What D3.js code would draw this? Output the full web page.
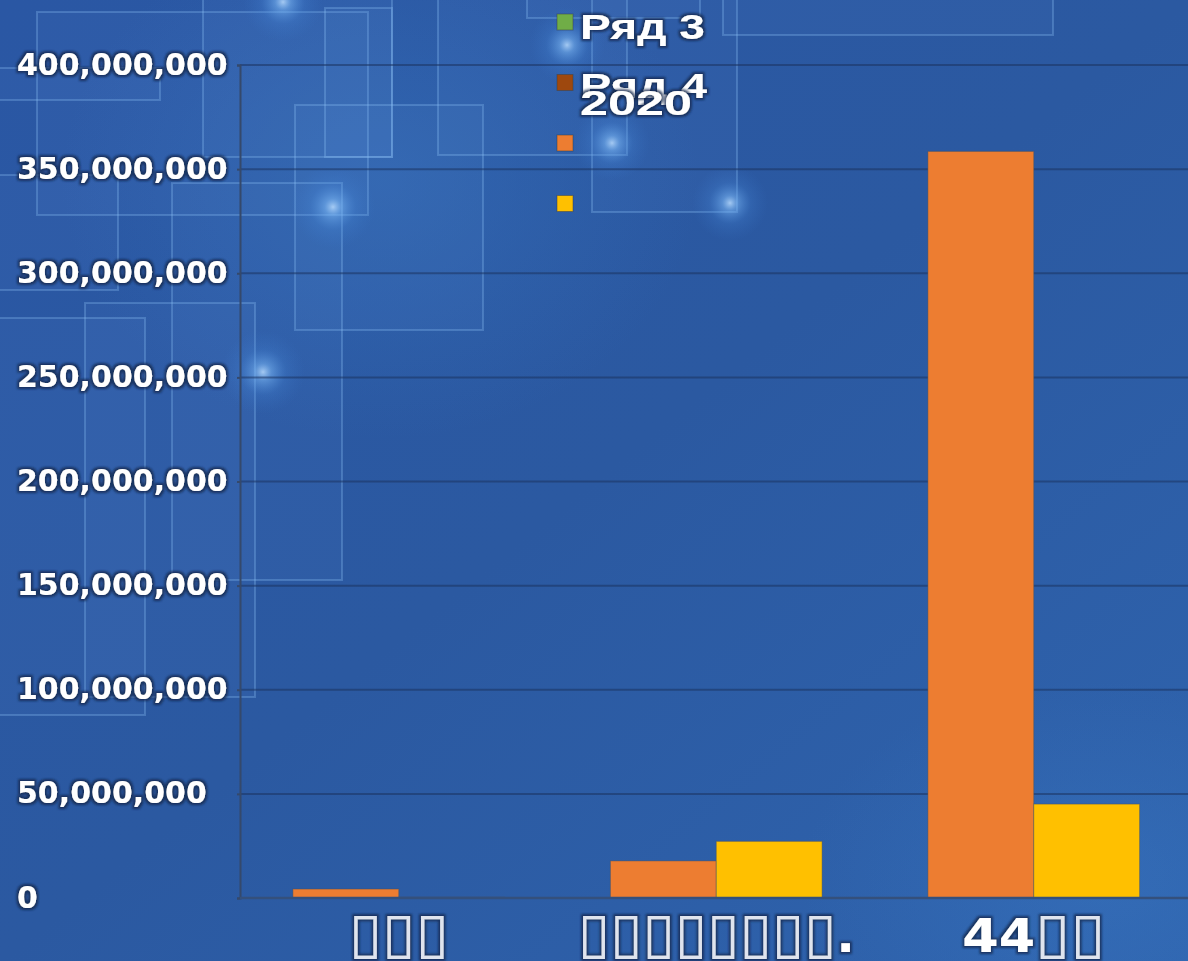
<!DOCTYPE html>
<html>
<head>
<meta charset="utf-8">
<script src="https://cdn.jsdelivr.net/npm/d3@7"></script>
<style>
  html, body { margin: 0; padding: 0; overflow: hidden; background: #2b58a2; }
  svg { display: block; }
</style>
</head>
<body>
<svg id="chart" width="1188" height="961"></svg>
<script>
// ---- data ----
const categories = ["▯▯▯", "▯▯▯▯▯▯▯▯.", "44▯▯"];
const legendLabels = ["Ряд 3", "Ряд 4", "2020", ""];
const values2020 = [4300000, 17800000, 358500000];
const valuesSeries2 = [400000, 27200000, 45100000];
const yTickValues = [0, 50000000, 100000000, 150000000, 200000000, 250000000, 300000000, 350000000, 400000000];

// ---- presentation ----
const W = 1188, H = 961;
const plot = { left: 240, top: 65, bottom: 898, step: 317.5 };
const legendColors = ["#70ad47", "#9e480e", "#ed7d31", "#ffc000"];
const barColors = ["#ed7d31", "#ffc000"];
const labelWidths = [100, 277, 143];

const svg = d3.select("#chart");
const defs = svg.append("defs");

// background gradient
const bg = defs.append("linearGradient").attr("id", "bg")
  .attr("x1", "0").attr("y1", "0").attr("x2", "1").attr("y2", "1");
bg.append("stop").attr("offset", "0").attr("stop-color", "#2a57a4");
bg.append("stop").attr("offset", "0.5").attr("stop-color", "#2b59a1");
bg.append("stop").attr("offset", "1").attr("stop-color", "#2f64ae");

const glow = defs.append("radialGradient").attr("id", "glow");
glow.append("stop").attr("offset", "0").attr("stop-color", "#b9dcff").attr("stop-opacity", 0.85);
glow.append("stop").attr("offset", "0.2").attr("stop-color", "#79b6f5").attr("stop-opacity", 0.55);
glow.append("stop").attr("offset", "0.55").attr("stop-color", "#4a8ee0").attr("stop-opacity", 0.2);
glow.append("stop").attr("offset", "1").attr("stop-color", "#3a7ad0").attr("stop-opacity", 0);

const soft = defs.append("radialGradient").attr("id", "soft");
soft.append("stop").attr("offset", "0").attr("stop-color", "#3a78c4").attr("stop-opacity", 0.4);
soft.append("stop").attr("offset", "1").attr("stop-color", "#3a78c4").attr("stop-opacity", 0);

// halo around white labels
const halo = defs.append("filter").attr("id", "halo")
  .attr("x", "-10%").attr("y", "-30%").attr("width", "120%").attr("height", "160%");
halo.append("feMorphology").attr("in", "SourceAlpha").attr("operator", "dilate").attr("radius", 1.6).attr("result", "d");
halo.append("feGaussianBlur").attr("in", "d").attr("stdDeviation", 1.2).attr("result", "b");
halo.append("feFlood").attr("flood-color", "#14264a").attr("flood-opacity", 0.75);
halo.append("feComposite").attr("in2", "b").attr("operator", "in").attr("result", "s");
halo.append("feGaussianBlur").attr("in", "SourceGraphic").attr("stdDeviation", 0.5).attr("result", "t");
const hm = halo.append("feMerge");
hm.append("feMergeNode").attr("in", "s");
hm.append("feMergeNode").attr("in", "t");

svg.append("rect").attr("width", W).attr("height", H).attr("fill", "url(#bg)");
svg.append("ellipse").attr("cx", 1100).attr("cy", 880).attr("rx", 300).attr("ry", 200).attr("fill", "url(#soft)");
svg.append("ellipse").attr("cx", 380).attr("cy", 180).attr("rx", 320).attr("ry", 260).attr("fill", "url(#soft)");

// decorative translucent frames in the backdrop
const backdropFrames = [
  [37, 12, 331, 203], [-10, 68, 170, 32], [203, -10, 189, 167], [325, 8, 67, 149],
  [295, 105, 188, 225], [438, -10, 189, 165], [592, -10, 145, 222], [723, -10, 330, 45],
  [527, -10, 173, 28], [172, 183, 170, 397], [-10, 175, 128, 115], [85, 303, 170, 394],
  [-10, 318, 155, 397]
];
svg.append("g").selectAll("rect").data(backdropFrames).join("rect")
  .attr("x", d => d[0]).attr("y", d => d[1]).attr("width", d => d[2]).attr("height", d => d[3])
  .attr("fill", "#6fa6e6").attr("fill-opacity", 0.06)
  .attr("stroke", "#8cc0f5").attr("stroke-opacity", 0.3).attr("stroke-width", 2);

const glowSpots = [[283, 2, 40], [333, 207, 42], [263, 372, 42], [567, 45, 38], [612, 143, 38], [730, 203, 38]];
svg.append("g").selectAll("circle").data(glowSpots).join("circle")
  .attr("cx", d => d[0]).attr("cy", d => d[1]).attr("r", d => d[2]).attr("fill", "url(#glow)");

// ---- scales ----
const x = d3.scaleBand().domain(categories)
  .range([plot.left, plot.left + plot.step * 3]).paddingInner(1 / 3).paddingOuter(1 / 6);
const xs = d3.scaleBand().domain([0, 1]).range([0, x.bandwidth()]).padding(0);
const y = d3.scaleLinear().domain([0, 400000000]).range([plot.bottom, plot.top]);

// gridlines
svg.append("g").selectAll("line").data(yTickValues.slice(1)).join("line")
  .attr("x1", plot.left).attr("x2", W)
  .attr("y1", d => y(d)).attr("y2", d => y(d))
  .attr("stroke", "#1c3360").attr("stroke-opacity", 0.55).attr("stroke-width", 2);

// y axis line with tiny ticks
const yAxis = svg.append("g").attr("transform", `translate(${plot.left},0)`)
  .call(d3.axisLeft(y).tickValues(yTickValues).tickSize(3).tickFormat(""));
yAxis.selectAll("path,line").attr("stroke", "#35496b").attr("stroke-width", 2);

// bars
const seriesData = [values2020, valuesSeries2];
const groups = svg.append("g").selectAll("g").data(categories).join("g")
  .attr("transform", d => `translate(${x(d)},0)`);
groups.selectAll("rect").data((d, i) => seriesData.map((s, k) => ({ k, v: s[i] }))).join("rect")
  .attr("x", d => xs(d.k)).attr("width", xs.bandwidth())
  .attr("y", d => y(d.v)).attr("height", d => y(0) - y(d.v))
  .attr("fill", d => barColors[d.k])
  .attr("stroke", "#4a4f5e").attr("stroke-opacity", 0.45).attr("stroke-width", 1);

// baseline
svg.append("line").attr("x1", plot.left).attr("x2", W).attr("y1", y(0)).attr("y2", y(0))
  .attr("stroke", "#34507c").attr("stroke-width", 2.5);

// y tick labels
svg.append("g").selectAll("text").data(yTickValues).join("text")
  .attr("x", 17).attr("y", d => y(d) - 1)
  .attr("dominant-baseline", "central")
  .attr("font-family", "DejaVu Sans").attr("font-weight", "bold").attr("font-size", 30)
  .attr("fill", "#ffffff").attr("filter", "url(#halo)")
  .text(d => d3.format(",")(d));

// category labels: glyph boxes in light grey, other characters bold white
const xl = svg.append("g");
categories.forEach((c, i) => {
  const t = xl.append("text").attr("x", x(c) + x.bandwidth() / 2).attr("y", 952)
    .attr("text-anchor", "middle").attr("font-family", "DejaVu Sans")
    .attr("textLength", labelWidths[i]).attr("lengthAdjust", "spacingAndGlyphs")
    .attr("filter", "url(#halo)");
  const runs = c.match(/▯+|[^▯]+/g);
  runs.forEach(r => {
    const box = r[0] === "▯";
    t.append("tspan").text(r)
      .attr("font-size", box ? 56 : 46)
      .attr("font-weight", box ? "normal" : "bold")
      .attr("fill", box ? "#dfe4ee" : "#ffffff");
  });
});

// legend
const lg = svg.append("g");
legendLabels.forEach((lab, i) => {
  const yy = 14 + i * 60.5;
  lg.append("rect").attr("x", 557).attr("y", yy).attr("width", 16).attr("height", 16)
    .attr("fill", legendColors[i]).attr("stroke", "#3a3f4a").attr("stroke-opacity", 0.5);
});
const legendText = [
  { t: legendLabels[0], y: 39, w: 125 },
  { t: legendLabels[1], y: 98, w: 127 },
  { t: legendLabels[2], y: 115, w: 112 }
];
lg.selectAll("text").data(legendText).join("text")
  .attr("x", 580).attr("y", d => d.y)
  .attr("font-family", "Liberation Sans").attr("font-weight", "bold").attr("font-size", 35)
  .attr("textLength", d => d.w).attr("lengthAdjust", "spacingAndGlyphs")
  .attr("fill", "#ffffff").attr("filter", "url(#halo)")
  .text(d => d.t);
</script>
</body>
</html>
